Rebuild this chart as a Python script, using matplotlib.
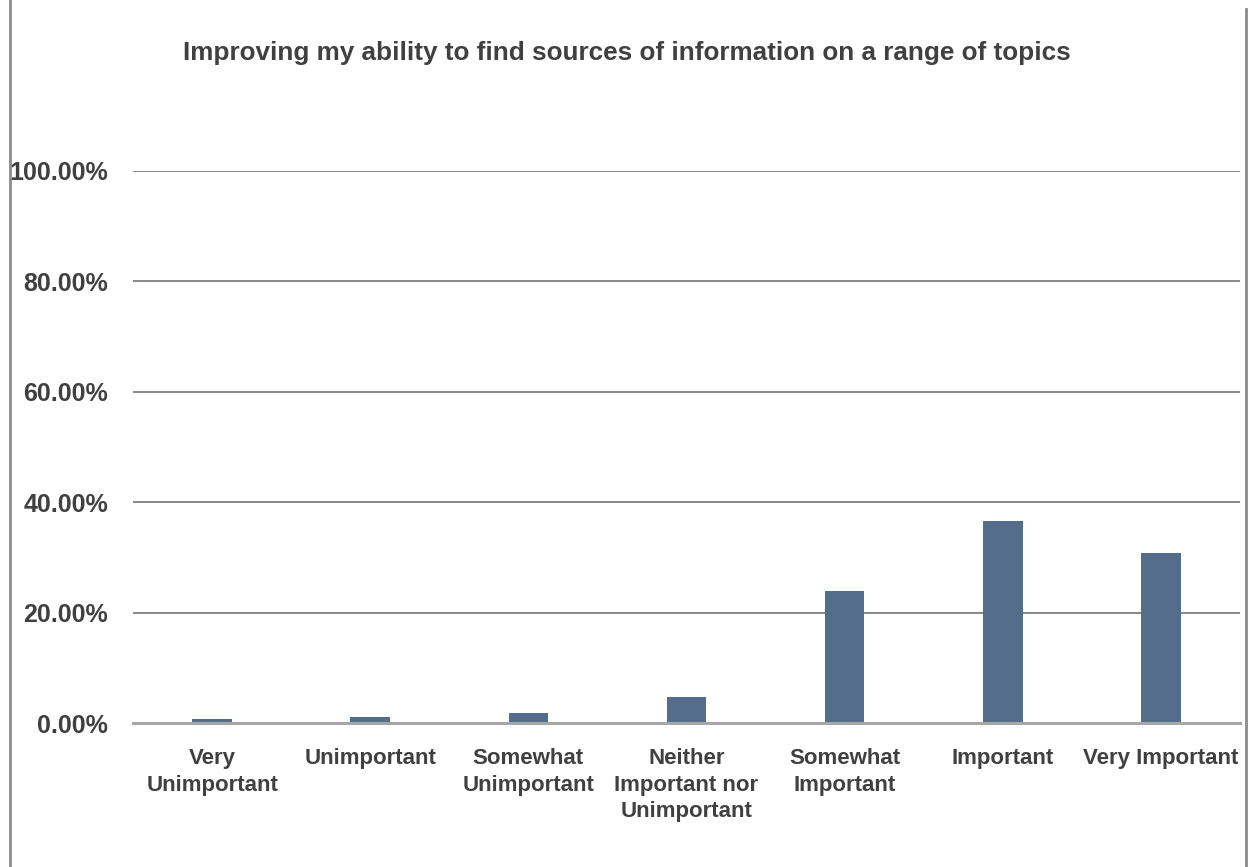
import matplotlib
matplotlib.use("Agg")
import matplotlib.pyplot as plt
from matplotlib import font_manager
from matplotlib.lines import Line2D
from matplotlib.ticker import FuncFormatter
import numpy as np

TITLE = "Improving my ability to find sources of information on a range of topics"

CATEGORIES = [
    "Very\nUnimportant",
    "Unimportant",
    "Somewhat\nUnimportant",
    "Neither\nImportant nor\nUnimportant",
    "Somewhat\nImportant",
    "Important",
    "Very Important",
]
SHARES = [0.0067, 0.0103, 0.0175, 0.0465, 0.239, 0.366, 0.308]
Y_TICKS = [0.0, 0.2, 0.4, 0.6, 0.8, 1.0]

BAR_COLOR = "#536d8a"
TEXT_COLOR = "#404040"
GRID_COLOR = "#7f7f84"

names = {f.name for f in font_manager.fontManager.ttflist}
family = "Liberation Sans Narrow" if "Liberation Sans Narrow" in names else "Liberation Sans"
plt.rcParams["font.family"] = [family, "DejaVu Sans"]

fig = plt.figure(figsize=(12.5, 8.67), dpi=100)
ax = fig.add_axes([0.1064, 0.166, 0.8856, 0.6373])

x = np.arange(len(CATEGORIES))
ax.bar(x, SHARES, width=0.25, color=BAR_COLOR, zorder=3)

ax.set_xlim(-0.5, len(CATEGORIES) - 0.5)
ax.set_ylim(0, 1.0)
ax.set_yticks(Y_TICKS)
ax.yaxis.set_major_formatter(FuncFormatter(lambda v, _: f"{v * 100:.2f}%"))
ax.set_xticks(x)
ax.set_xticklabels(CATEGORIES, linespacing=1.35)

for t in Y_TICKS[1:]:
    ax.axhline(t, color=GRID_COLOR, linewidth=1.3, zorder=1)

for side in ("top", "right", "left"):
    ax.spines[side].set_visible(False)
ax.spines["bottom"].set_color("#a6a6a6")
ax.spines["bottom"].set_linewidth(2.2)
ax.spines["bottom"].set_zorder(4)

ax.tick_params(axis="x", length=0, labelsize=16, labelcolor=TEXT_COLOR, pad=18)
ax.tick_params(axis="y", length=0, labelsize=18, labelcolor=TEXT_COLOR, pad=18)
for lab in ax.get_xticklabels() + ax.get_yticklabels():
    lab.set_fontweight("bold")

fig.text(0.5016, 1 - 53 / 867, TITLE, ha="center", va="center",
         fontsize=18.8, fontweight="bold", color=TEXT_COLOR)

# chart frame edges, cropped
frame = "#8c8c8c"
fig.add_artist(Line2D([9.5 / 1250, 9.5 / 1250], [0, 1], color=frame, linewidth=2,
                      transform=fig.transFigure))
fig.add_artist(Line2D([1246 / 1250, 1246 / 1250], [0, 1 - 9 / 867], color=frame,
                      linewidth=2, transform=fig.transFigure))

fig.savefig("out.png", dpi=100)
